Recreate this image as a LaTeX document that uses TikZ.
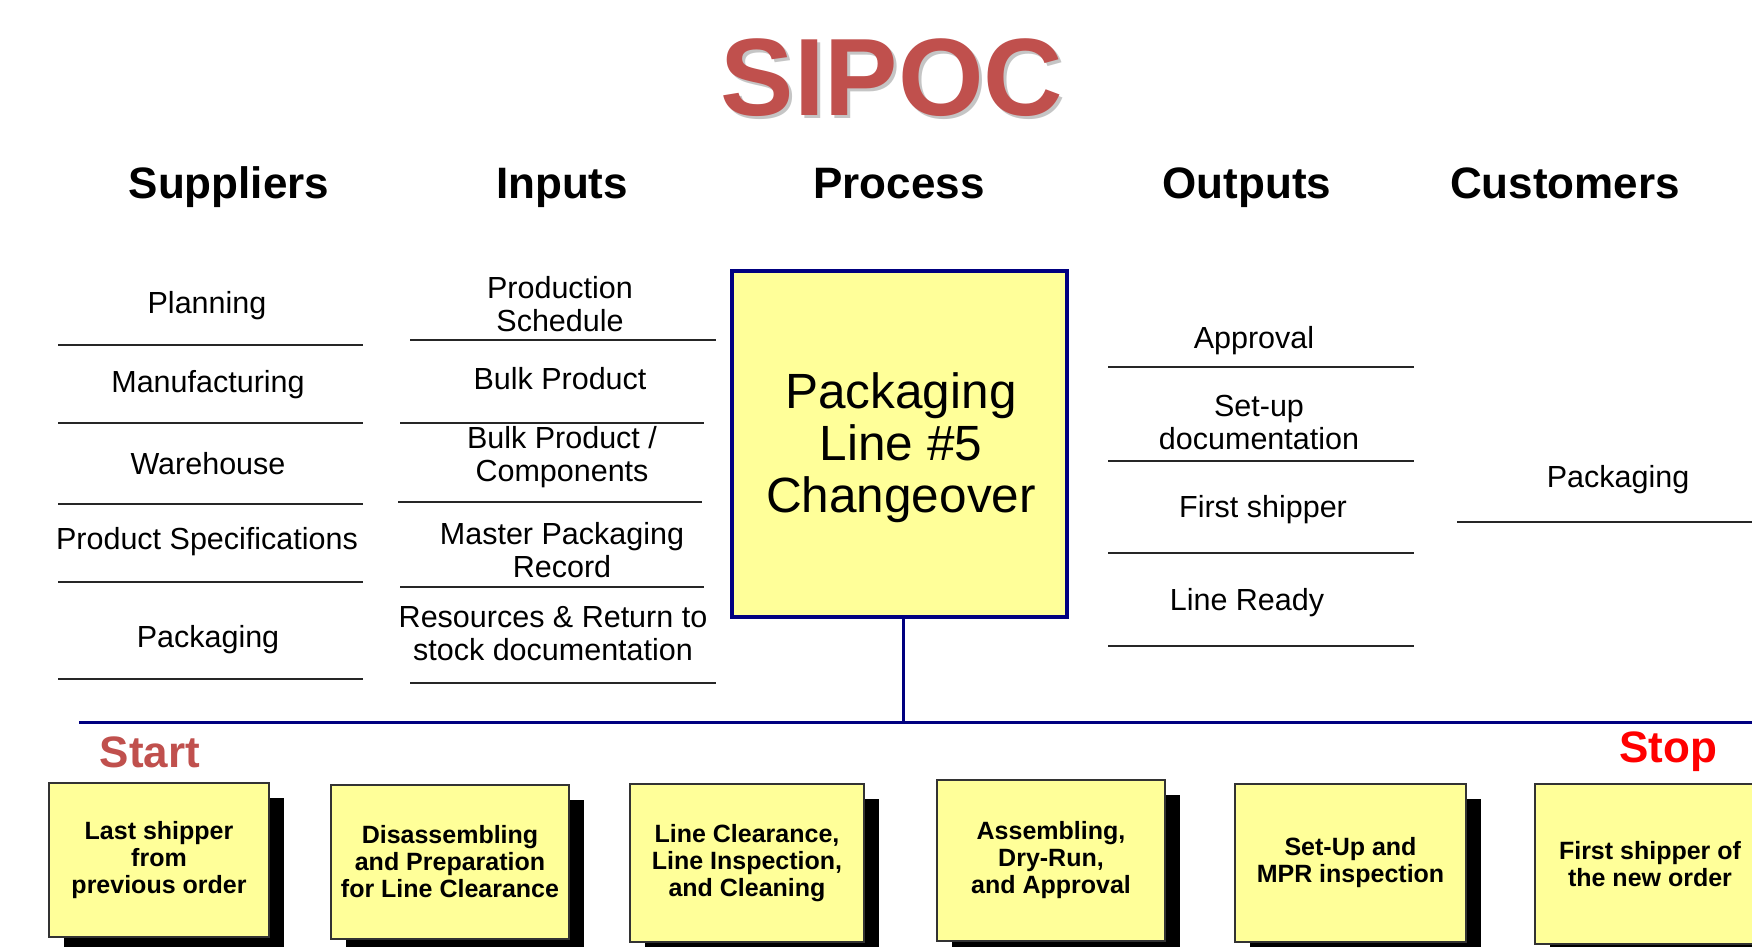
\documentclass[tikz,border=0pt]{standalone}
\usepackage{fontspec}
\setmainfont{Liberation Sans}
\usetikzlibrary{shadows}
\definecolor{titlered}{HTML}{C0504D}
\definecolor{navyline}{HTML}{000080}
\definecolor{paleyellow}{HTML}{FFFF99}
\tikzset{
  hdr/.style={font=\bfseries\fontsize{44}{48}\selectfont, anchor=base},
  item/.style={font=\fontsize{30.5}{33}\selectfont, align=center, inner sep=0pt},
  sep/.style={line width=1.6pt, black!85},
  pbox/.style={draw=black!80, line width=1.5pt, fill=paleyellow, inner sep=2pt,
    align=center, font=\bfseries\fontsize{25}{27}\selectfont,
    drop shadow={shadow xshift=15pt, shadow yshift=-15pt, fill=black, opacity=1}},
  navy/.style={draw=navyline, line width=3pt},
}
\begin{document}
\begin{tikzpicture}[x=1pt,y=-1pt]
\useasboundingbox (0,0) rectangle (1752,946);
\clip (0,0) rectangle (1752,946);
\fill[white] (0,0) rectangle (1752,946);

% title
\node[text=black!45, opacity=0.5, font=\bfseries\fontsize{110}{120}\selectfont] at (895,81) {SIPOC};
\node[text=titlered, font=\bfseries\fontsize{110}{120}\selectfont] (title) at (892,78) {SIPOC};

% headers
\node[hdr] (hS) at (229,198) {Suppliers};
\node[hdr] (hI) at (562,198) {Inputs};
\node[hdr] (hP) at (899,198) {Process};
\node[hdr] (hO) at (1247,198) {Outputs};
\node[hdr] (hC) at (1565,198) {Customers};

% suppliers
\node[item] (s1) at (207,306) {Planning};
\node[item] (s2) at (208,385) {Manufacturing};
\node[item] (s3) at (208,464) {Warehouse};
\node[item] (s4) at (207,542) {Product Specifications};
\node[item] (s5) at (208,640) {Packaging};
\draw[sep] (58,345) -- (363,345);
\draw[sep] (58,423) -- (363,423);
\draw[sep] (58,504) -- (363,504);
\draw[sep] (58,582) -- (363,582);
\draw[sep] (58,679) -- (363,679);

% inputs
\node[item] (i1) at (560,304) {Production\\Schedule};
\node[item] (i2) at (560,379) {Bulk Product};
\node[item] (i3) at (562,457) {Bulk Product /\\Components};
\node[item] (i4) at (562,550) {Master Packaging\\Record};
\node[item] (i5) at (553,634) {Resources \& Return to\\stock documentation};
\draw[sep] (410,340) -- (716,340);
\draw[sep] (400,423) -- (704,423);
\draw[sep] (398,502) -- (702,502);
\draw[sep] (400,587) -- (704,587);
\draw[sep] (410,683) -- (716,683);

% process
\node[navy, line width=3.5pt, fill=paleyellow, minimum width=335pt, minimum height=346pt] (proc) at (899.5,444) {};
\node[align=center, inner sep=0pt, font=\fontsize{49.5}{52}\selectfont] (proctxt) at (901,448)
  {Packaging\\Line \#5\\Changeover};

% outputs
\node[item] (o1) at (1254,341) {Approval};
\node[item] (o2) at (1259,422) {Set-up\\documentation};
\node[item] (o3) at (1263,510) {First shipper};
\node[item] (o4) at (1247,603) {Line Ready};
\draw[sep] (1108,367) -- (1414,367);
\draw[sep] (1108,461) -- (1414,461);
\draw[sep] (1108,553) -- (1414,553);
\draw[sep] (1108,646) -- (1414,646);

% customers
\node[item] (c1) at (1618,480) {Packaging};
\draw[sep] (1457,522) -- (1752,522);

% timeline
\coordinate (hlL) at (79,722);
\coordinate (hlR) at (1752,722);
\coordinate (vtop) at ([xshift=3.5pt]proc.south);
\draw[navy] (hlL) -- (hlR);
\draw[navy] (vtop) -- (vtop |- hlL);

\node[text=titlered, font=\bfseries\fontsize{44}{48}\selectfont] (start) at (150,752) {Start};
\node[text=red, font=\bfseries\fontsize{44}{48}\selectfont] (stop) at (1668,752) {Stop};

% process steps
\node[pbox, minimum width=220pt, minimum height=154pt] (b1) at (159,860) {Last shipper\\from\\previous order};
\node[pbox, minimum width=238pt, minimum height=154pt] (b2) at (450,862) {Disassembling\\and Preparation\\for Line Clearance};
\node[pbox, minimum width=234pt, minimum height=158pt] (b3) at (747,863) {Line Clearance,\\Line Inspection,\\and Cleaning};
\node[pbox, minimum width=228pt, minimum height=161pt] (b4) at (1051,860.5) {Assembling,\\Dry-Run,\\and Approval};
\node[pbox, minimum width=231pt, minimum height=158pt] (b5) at (1350.5,863) {Set-Up and\\MPR inspection};
\node[pbox, minimum width=230pt, minimum height=160pt] (b6) at (1650,864) {First shipper of\\the new order};
\end{tikzpicture}
\end{document}
